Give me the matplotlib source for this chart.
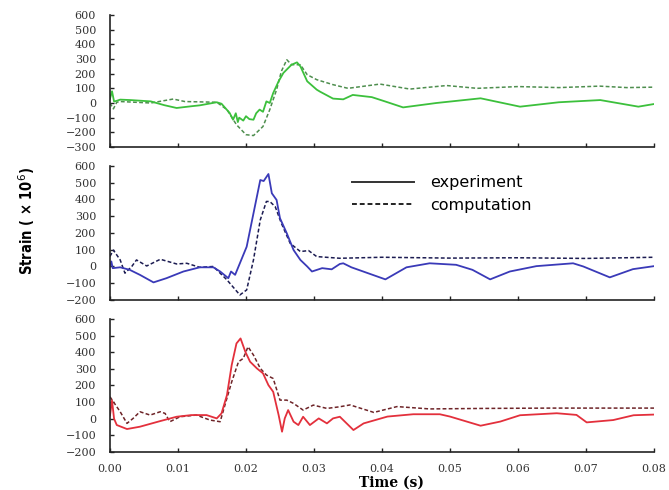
import matplotlib
matplotlib.use("Agg")
import matplotlib.pyplot as plt
from matplotlib.lines import Line2D
from matplotlib import font_manager

# ---------------- data (time in s, strain x1e-6) ----------------
t_g_exp = [0.0, 0.0003, 0.0006, 0.001, 0.0015, 0.003, 0.006, 0.008, 0.0098, 0.012, 0.0132, 0.0157, 0.0164,
           0.0176, 0.0181, 0.0185, 0.0188, 0.019, 0.0196, 0.020, 0.0205, 0.0211, 0.0215, 0.022, 0.0225, 0.023,
           0.0235, 0.024, 0.0248, 0.0255, 0.0267, 0.0275, 0.028, 0.029, 0.0304, 0.0309, 0.0328, 0.0343, 0.0357,
           0.0385, 0.0405, 0.0431, 0.048, 0.0545, 0.0603, 0.066, 0.0721, 0.0777, 0.080]
v_g_exp = [30, 80, 10, 15, 23, 20, 11, -15, -34, -22, -16, 5, -5,
           -68, -114, -70, -130, -100, -120, -90, -110, -114, -70, -45, -60, 11,
           0, 68, 148, 205, 261, 277, 250, 148, 91, 77, 30, 25, 55,
           40, 10, -30, 0, 32, -25, 5, 20, -25, -7]
t_g_com = [0.0, 0.0005, 0.001, 0.0015, 0.006, 0.0093, 0.011, 0.0157, 0.0172, 0.0186, 0.020, 0.0211, 0.0225,
           0.0235, 0.0245, 0.0252, 0.026, 0.0267, 0.028, 0.029, 0.0304, 0.0328, 0.035, 0.0397, 0.0441, 0.0495,
           0.054, 0.060, 0.066, 0.072, 0.076, 0.080]
v_g_com = [0, -40, 5, 10, 0, 27, 10, 5, -45, -148, -216, -222, -160,
           -45, 91, 216, 295, 261, 261, 193, 159, 125, 100, 129, 95, 119,
           100, 112, 105, 115, 105, 108]

t_b_exp = [0.0, 0.0002, 0.0004, 0.0015, 0.0029, 0.0044, 0.0064, 0.0083, 0.0108, 0.0132, 0.0152, 0.0162, 0.0174,
           0.0178, 0.0184, 0.0191, 0.0201, 0.0211, 0.0221, 0.0226, 0.0233, 0.0238, 0.0245, 0.025, 0.026, 0.027,
           0.028, 0.029, 0.0297, 0.0312, 0.0326, 0.0338, 0.0343, 0.0355, 0.0405, 0.0436, 0.047, 0.0509, 0.0533,
           0.0559, 0.0588, 0.0627, 0.0681, 0.0696, 0.0735, 0.0769, 0.080]
v_b_exp = [0, 30, -10, -5, -20, -50, -95, -70, -30, -5, -5, -30, -70,
           -30, -50, 19, 118, 317, 516, 510, 552, 437, 397, 288, 198, 98,
           39, 0, -30, -10, -17, 15, 19, -5, -77, -5, 19, 10, -20,
           -77, -30, 2, 19, 0, -65, -16, 2]
t_b_com = [0.0, 0.0005, 0.0015, 0.0022, 0.0032, 0.0039, 0.0054, 0.0074, 0.0098, 0.0113, 0.0132, 0.0152, 0.0172,
           0.0191, 0.0201, 0.0211, 0.0221, 0.023, 0.0235, 0.0243, 0.0252, 0.0265, 0.028, 0.0292, 0.0304, 0.0338,
           0.040, 0.050, 0.060, 0.070, 0.080]
v_b_com = [60, 98, 39, -40, 0, 39, 3, 43, 15, 19, -5, 0, -80,
           -170, -140, 39, 278, 388, 388, 357, 258, 138, 89, 95, 59, 49,
           55, 50, 52, 48, 55]

t_r_exp = [0.0, 0.0003, 0.0006, 0.001, 0.0025, 0.0044, 0.0074, 0.0098, 0.012, 0.0142, 0.0157, 0.0164, 0.0172,
           0.0179, 0.0186, 0.0192, 0.0199, 0.0206, 0.0216, 0.0225, 0.0233, 0.024, 0.0248, 0.0253, 0.0257, 0.0262,
           0.027, 0.0277, 0.0284, 0.0294, 0.0307, 0.0319, 0.0328, 0.0338, 0.0343, 0.0358, 0.0373, 0.0408, 0.0446,
           0.0485, 0.050, 0.0545, 0.0574, 0.0603, 0.0657, 0.0686, 0.0701, 0.074, 0.077, 0.080]
v_r_exp = [20, 110, 0, -38, -62, -48, -14, 12, 22, 22, 2, 32, 142,
           323, 453, 483, 403, 343, 303, 273, 202, 162, 22, -78, 2, 52,
           -18, -38, 12, -38, 2, -28, 2, 12, -8, -68, -28, 13, 27,
           27, 13, -42, -17, 21, 33, 23, -22, -8, 21, 25]
t_r_com = [0.0, 0.0015, 0.0025, 0.0034, 0.0044, 0.0059, 0.0074, 0.0081, 0.0088, 0.0103, 0.0127, 0.0147, 0.0162,
           0.0169, 0.0179, 0.0189, 0.0196, 0.0203, 0.0211, 0.0221, 0.023, 0.024, 0.025, 0.026, 0.027, 0.0284,
           0.0299, 0.0319, 0.0338, 0.0353, 0.0388, 0.0422, 0.047, 0.055, 0.065, 0.080]
v_r_com = [132, 42, -28, 2, 42, 22, 42, 32, -18, 12, 22, -8, -18,
           82, 222, 343, 363, 433, 383, 303, 263, 242, 112, 112, 92, 52,
           82, 62, 72, 83, 38, 73, 59, 62, 64, 64]

x_ticks = [0.00, 0.01, 0.02, 0.03, 0.04, 0.05, 0.06, 0.07, 0.08]
x_tick_labels = ["0.00", "0.01", "0.02", "0.03", "0.04", "0.05", "0.06", "0.07", "0.08"]
legend_labels = ["experiment", "computation"]

# ---------------- figure ----------------
fig = plt.figure(figsize=(6.69, 4.90), dpi=100)
fig.patch.set_facecolor("white")

rects = [
    [0.1644, 0.7000, 0.8132, 0.2694],
    [0.1644, 0.3878, 0.8132, 0.2735],
    [0.1644, 0.0776, 0.8132, 0.2714],
]
ylims = [(-300, 600), (-200, 600), (-200, 600)]
series = [
    (t_g_exp, v_g_exp, t_g_com, v_g_com, "#3cc03c", "#4e8e4e"),
    (t_b_exp, v_b_exp, t_b_com, v_b_com, "#3a3ab8", "#1c1c52"),
    (t_r_exp, v_r_exp, t_r_com, v_r_com, "#e3303c", "#6e2428"),
]

tick_font = dict(family="DejaVu Serif", size=8)
axes = []
for i, (rect, yl, s) in enumerate(zip(rects, ylims, series)):
    ax = fig.add_axes(rect)
    te, ve, tc, vc, ce, cc = s
    ax.plot(tc, vc, color=cc, lw=1.1, ls=(0, (2.5, 1.5)))
    ax.plot(te, ve, color=ce, lw=1.3)
    ax.set_xlim(0, 0.08)
    ax.set_ylim(*yl)
    ax.set_yticks(range(yl[0], 601, 100))
    ax.set_xticks(x_ticks)
    for sp in ["top", "right"]:
        ax.spines[sp].set_visible(False)
    for sp in ["left", "bottom"]:
        ax.spines[sp].set_linewidth(1.2)
        ax.spines[sp].set_color("#222222")
    ax.tick_params(direction="in", length=3, width=1, colors="#222222", pad=10)
    ax.tick_params(axis="x", pad=9)
    for lab in ax.get_yticklabels():
        lab.set_fontfamily(tick_font["family"])
        lab.set_fontsize(tick_font["size"])
        lab.set_color("#333333")
    if i < 2:
        ax.set_xticklabels([])
    else:
        ax.set_xticklabels(x_tick_labels, fontfamily=tick_font["family"],
                           fontsize=tick_font["size"], color="#333333")
    axes.append(ax)

# legend in middle panel
handles = [Line2D([], [], color="#333333", lw=1.4, ls="-"),
           Line2D([], [], color="#222222", lw=1.4, ls=(0, (2.5, 1.5)))]
axes[1].legend(handles, legend_labels, loc="upper left", bbox_to_anchor=(0.445, 0.93),
               frameon=False, handlelength=3.9, handletextpad=1.0, labelspacing=0.45,
               borderpad=0, borderaxespad=0,
               prop=dict(family="DejaVu Sans", size=11.5))

fig.text(0.585, 0.014, "Time (s)", ha="center", va="center",
         fontfamily="DejaVu Serif", fontweight="bold", fontsize=10)

# condensed bold font for the y label if available
fp = font_manager.FontProperties(family="DejaVu Sans", weight="bold", stretch="condensed", size=10.5)
fig.text(0.040, 0.55, "Strain ( × 10$^{6}$)", rotation=90, ha="center", va="center",
         fontproperties=fp)

fig.savefig("out.png", dpi=100, facecolor="white")
